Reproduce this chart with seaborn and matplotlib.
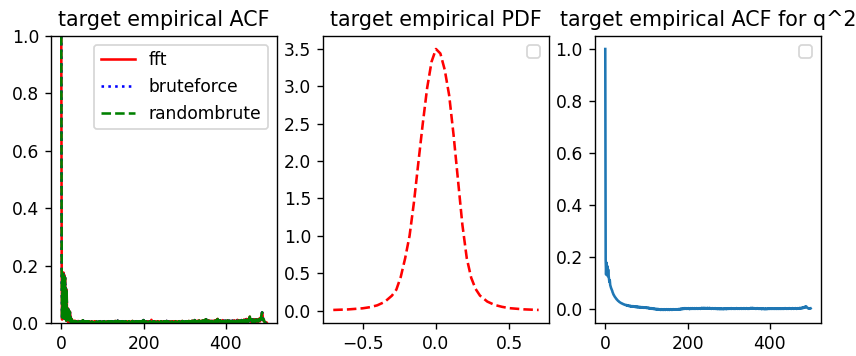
import numpy as np
import matplotlib
matplotlib.use("Agg")
import matplotlib.pyplot as plt
import seaborn as sns

# ---------------- data ----------------
lags = list(range(500))

acf_q = [
    1.0, 0.181, 0.012, 0.172, 0.018, 0.176, 0.025, 0.168, 0.015, 0.158, 0.022, 0.121, 0.008, 0.115, 0.012, 0.052, 0.004, 0.048, 0.010, 0.041, 0.003, 0.039, 0.006, 0.022, 0.002,
    0.014, -0.002, 0.009, 0.001, 0.007, -0.003, 0.006, 0.002, 0.008, -0.004, 0.005, 0.001, 0.006, -0.002, 0.004, 0.003, 0.007, -0.003, 0.005, 0.000, 0.006, -0.001, 0.004, 0.002, 0.005,
    -0.002, 0.008, 0.001, 0.009, -0.003, 0.006, 0.002, 0.005, -0.001, 0.004, 0.003, 0.006, -0.004, 0.005, 0.001, 0.004, -0.002, 0.006, 0.002, 0.003, -0.003, 0.005, 0.001, 0.004, -0.002,
    0.005, 0.002, 0.003, -0.004, 0.004, 0.001, 0.006, -0.002, 0.003, 0.002, 0.005, -0.003, 0.004, 0.000, 0.003, -0.001, 0.005, 0.002, 0.004, -0.003, 0.006, 0.001, 0.003, -0.002, 0.004,
    0.002, 0.005, -0.003, 0.004, 0.001, 0.006, -0.002, 0.003, 0.002, 0.004, -0.004, 0.005, 0.001, 0.003, -0.001, 0.006, 0.002, 0.004, -0.003, 0.005, 0.000, 0.004, -0.002, 0.006, 0.001,
    0.003, -0.003, 0.005, 0.002, 0.004, -0.001, 0.007, 0.001, 0.004, -0.002, 0.005, 0.003, 0.008, -0.003, 0.004, 0.001, 0.006, -0.002, 0.003, 0.002, 0.005, -0.004, 0.004, 0.001, 0.006,
    -0.002, 0.004, 0.002, 0.005, -0.003, 0.003, 0.001, 0.006, -0.001, 0.004, 0.002, 0.005, -0.003, 0.004, 0.000, 0.006, -0.002, 0.003, 0.002, 0.005, -0.004, 0.004, 0.001, 0.007, -0.001,
    0.004, 0.002, 0.006, -0.003, 0.005, 0.001, 0.004, -0.002, 0.006, 0.002, 0.003, -0.003, 0.005, 0.001, 0.004, -0.001, 0.006, 0.002, 0.005, -0.003, 0.004, 0.001, 0.007, -0.002, 0.005,
    0.010, 0.003, 0.006, -0.002, 0.004, 0.001, 0.005, -0.003, 0.004, 0.002, 0.006, -0.001, 0.004, 0.002, 0.005, -0.003, 0.006, 0.001, 0.004, 0.011, 0.007, 0.002, 0.005, -0.002, 0.004,
    0.001, 0.006, -0.003, 0.004, 0.002, 0.005, -0.002, 0.003, 0.001, 0.006, -0.004, 0.004, 0.002, 0.005, -0.001, 0.003, 0.002, 0.006, -0.003, 0.004, 0.001, 0.005, -0.002, 0.004, 0.002,
    0.006, -0.003, 0.004, 0.001, 0.005, -0.002, 0.007, 0.002, 0.004, -0.003, 0.005, 0.001, 0.004, -0.001, 0.006, 0.002, 0.003, -0.003, 0.005, 0.001, 0.004, -0.002, 0.006, 0.002, 0.005,
    -0.003, 0.004, 0.001, 0.006, -0.002, 0.003, 0.002, 0.005, -0.004, 0.004, 0.001, 0.006, -0.001, 0.004, 0.002, 0.005, -0.003, 0.004, 0.001, 0.007, -0.002, 0.005, 0.002, 0.004, -0.003,
    0.005, 0.001, 0.004, -0.002, 0.006, 0.002, 0.004, -0.003, 0.005, 0.001, 0.007, -0.001, 0.004, 0.002, 0.006, -0.003, 0.005, 0.002, 0.008, 0.001, 0.006, -0.002, 0.005, 0.003, 0.010,
    0.004, 0.002, 0.007, -0.002, 0.005, 0.001, 0.008, 0.003, 0.006, -0.001, 0.009, 0.002, 0.005, -0.002, 0.007, 0.003, 0.006, 0.001, 0.009, -0.001, 0.006, 0.002, 0.008, 0.004, 0.011,
    0.005, 0.002, 0.013, 0.004, 0.007, -0.001, 0.006, 0.003, 0.009, 0.001, 0.006, 0.002, 0.008, -0.002, 0.006, 0.003, 0.007, 0.001, 0.005, 0.002, 0.008, 0.000, 0.006, 0.003, 0.009,
    0.004, 0.007, 0.002, 0.012, 0.005, 0.014, 0.003, 0.008, 0.001, 0.006, 0.002, 0.009, 0.004, 0.007, -0.001, 0.006, 0.003, 0.010, 0.002, 0.007, 0.001, 0.006, 0.003, 0.008, 0.000,
    0.006, 0.002, 0.007, 0.003, 0.009, 0.001, 0.006, 0.004, 0.008, 0.000, 0.006, 0.002, 0.007, 0.003, 0.005, 0.001, 0.008, 0.002, 0.006, 0.004, 0.009, 0.001, 0.007, 0.003, 0.006,
    0.002, 0.008, 0.004, 0.011, 0.002, 0.007, 0.003, 0.009, 0.001, 0.006, 0.003, 0.008, 0.002, 0.010, 0.004, 0.007, 0.001, 0.009, 0.003, 0.012, 0.005, 0.008, 0.002, 0.011, 0.004,
    0.014, 0.006, 0.009, 0.003, 0.012, 0.005, 0.016, 0.008, 0.022, 0.010, 0.013, 0.004, 0.010, 0.006, 0.012, 0.003, 0.011, 0.005, 0.013, 0.007, 0.010, 0.004, 0.012, 0.006, 0.011,
    0.004, 0.013, 0.007, 0.010, 0.005, 0.014, 0.008, 0.011, 0.006, 0.018, 0.012, 0.024, 0.030, 0.037, 0.028, 0.015, 0.009, 0.012, 0.006, 0.004, 0.002, 0.001, -0.002, 0.000, 0.001,
]

acf_q2 = [
    1.000, 0.190, 0.132, 0.178, 0.140, 0.165, 0.126, 0.152, 0.129, 0.118, 0.104, 0.110, 0.092, 0.086, 0.081, 0.077, 0.072, 0.069, 0.063, 0.060, 0.055, 0.053, 0.050, 0.047, 0.045,
    0.043, 0.040, 0.039, 0.036, 0.035, 0.033, 0.031, 0.030, 0.029, 0.027, 0.026, 0.025, 0.024, 0.023, 0.022, 0.021, 0.021, 0.020, 0.019, 0.018, 0.018, 0.017, 0.016, 0.016, 0.015,
    0.015, 0.014, 0.015, 0.013, 0.014, 0.012, 0.013, 0.011, 0.012, 0.011, 0.010, 0.012, 0.010, 0.011, 0.009, 0.010, 0.009, 0.011, 0.008, 0.009, 0.010, 0.008, 0.009, 0.007, 0.009,
    0.008, 0.007, 0.009, 0.006, 0.008, 0.007, 0.008, 0.006, 0.007, 0.008, 0.005, 0.007, 0.006, 0.007, 0.005, 0.006, 0.007, 0.005, 0.006, 0.004, 0.006, 0.005, 0.004, 0.006, 0.004,
    0.005, 0.003, 0.004, 0.005, 0.003, 0.004, 0.002, 0.004, 0.003, 0.002, 0.003, 0.001, 0.003, 0.002, 0.000, 0.002, 0.001, 0.000, 0.001, -0.001, 0.001, 0.000, -0.001, 0.000, -0.002,
    0.000, -0.001, -0.002, 0.000, -0.003, -0.001, -0.002, -0.003, -0.001, -0.004, -0.002, -0.003, -0.001, -0.004, -0.002, -0.003, -0.002, -0.004, -0.001, -0.003, -0.002, -0.004, -0.002, -0.003, -0.001,
    -0.003, -0.002, -0.004, -0.001, -0.003, -0.002, -0.004, -0.002, -0.003, -0.001, -0.003, -0.002, -0.004, -0.001, -0.002, -0.003, -0.001, -0.003, -0.002, -0.003, -0.001, -0.002, -0.003, -0.001, -0.002,
    -0.001, -0.003, -0.001, -0.002, 0.000, -0.002, -0.001, 0.000, -0.002, 0.001, -0.001, 0.000, 0.001, -0.001, 0.002, 0.000, 0.001, 0.003, 0.000, 0.002, 0.001, 0.003, 0.000, 0.002, 0.001,
    0.002, 0.000, 0.003, 0.001, 0.002, -0.001, 0.002, 0.001, 0.003, 0.000, 0.002, 0.001, 0.003, 0.000, 0.001, 0.002, 0.000, 0.003, 0.001, 0.002, 0.000, 0.001, 0.003, 0.001, 0.002,
    0.000, 0.002, 0.001, 0.003, 0.001, 0.002, 0.000, 0.003, 0.002, 0.004, 0.001, 0.003, 0.002, 0.004, 0.001, 0.003, 0.002, 0.004, 0.002, 0.003, 0.001, 0.003, 0.002, 0.004, 0.001,
    0.003, 0.001, 0.002, 0.004, 0.001, 0.003, 0.002, 0.003, 0.000, 0.002, 0.001, 0.003, 0.001, 0.002, 0.000, 0.002, 0.001, 0.003, 0.000, 0.002, 0.001, 0.002, -0.001, 0.001, 0.002,
    0.000, 0.001, -0.001, 0.001, 0.000, 0.002, -0.001, 0.001, 0.000, 0.001, -0.001, 0.000, 0.001, -0.001, 0.001, 0.000, 0.002, 0.000, 0.001, -0.001, 0.001, 0.000, 0.002, 0.000, 0.001,
    0.000, 0.002, 0.001, 0.000, 0.002, 0.001, 0.003, 0.000, 0.002, 0.001, 0.002, 0.000, 0.001, 0.002, 0.000, 0.001, 0.002, 0.000, 0.001, 0.003, 0.001, 0.002, 0.000, 0.002, 0.001,
    0.002, 0.000, 0.001, 0.002, 0.001, 0.003, 0.000, 0.002, 0.001, 0.002, 0.000, 0.001, 0.003, 0.001, 0.002, 0.000, 0.002, 0.001, 0.003, 0.001, 0.002, 0.000, 0.001, 0.002, 0.000,
    0.002, 0.001, 0.003, 0.002, 0.004, 0.001, 0.003, 0.002, 0.004, 0.002, 0.003, 0.001, 0.002, 0.003, 0.001, 0.002, 0.000, 0.002, 0.001, 0.003, 0.001, 0.002, 0.000, 0.001, 0.002,
    0.000, 0.001, 0.002, 0.000, 0.001, -0.001, 0.001, 0.000, 0.002, 0.000, 0.001, -0.001, 0.000, 0.001, -0.001, 0.001, 0.000, 0.001, -0.001, 0.000, 0.001, 0.000, 0.002, 0.000, 0.001,
    0.000, 0.001, 0.002, 0.000, 0.001, 0.000, 0.002, 0.001, 0.000, 0.001, 0.002, 0.000, 0.001, 0.000, 0.002, 0.001, 0.000, 0.001, 0.000, 0.002, 0.001, 0.000, 0.001, 0.002, 0.000,
    0.001, 0.000, 0.002, 0.001, 0.000, 0.001, 0.002, 0.000, 0.001, 0.000, 0.002, 0.001, 0.003, 0.001, 0.002, 0.000, 0.001, 0.002, 0.001, 0.000, 0.002, 0.001, 0.003, 0.001, 0.002,
    0.001, 0.002, 0.000, 0.002, 0.001, 0.003, 0.001, 0.002, 0.000, 0.001, 0.002, 0.001, 0.003, 0.001, 0.002, 0.000, 0.002, 0.001, 0.003, 0.002, 0.001, 0.003, 0.002, 0.004, 0.002,
    0.003, 0.002, 0.004, 0.003, 0.005, 0.003, 0.006, 0.004, 0.007, 0.005, 0.008, 0.006, 0.009, 0.010, 0.008, 0.006, 0.004, 0.003, 0.002, 0.003, 0.002, 0.001, 0.002, 0.001, 0.002,
]

pdf_x = [-0.70, -0.60, -0.50, -0.45, -0.40, -0.35, -0.30, -0.27, -0.24, -0.21, -0.18, -0.15,
         -0.12, -0.09, -0.06, -0.03, 0.0, 0.03, 0.06, 0.09, 0.12, 0.15, 0.18, 0.21, 0.24,
         0.27, 0.30, 0.35, 0.40, 0.45, 0.50, 0.60, 0.70]
pdf_y = [0.008, 0.015, 0.030, 0.045, 0.070, 0.115, 0.200, 0.280, 0.450, 0.700, 1.000, 1.450,
         1.980, 2.500, 2.980, 3.330, 3.500, 3.440, 3.220, 2.880, 2.350, 1.750, 1.150, 0.700, 0.440,
         0.290, 0.200, 0.120, 0.075, 0.050, 0.032, 0.016, 0.008]

titles = ["target empirical ACF", "target empirical PDF", "target empirical ACF for q^2"]
acf_labels = ["fft", "bruteforce", "randombrute"]

# ---------------- figure ----------------
DPI = 123.5
fig, axes = plt.subplots(1, 3, figsize=(856 / DPI, 356 / DPI), dpi=DPI)
fig.subplots_adjust(left=0.0596, right=0.959, top=0.899, bottom=0.0927, wspace=0.204)

ax1, ax2, ax3 = axes

styles = [("red", "-"), ("blue", ":"), ("green", "--")]
for lab, (col, ls) in zip(acf_labels, styles):
    sns.lineplot(x=lags, y=acf_q, ax=ax1, color=col, linestyle=ls, label=lab,
                 errorbar=None, linewidth=1.5)
ax1.set_ylim(0, 1)
ax1.set_title(titles[0])
ax1.legend(loc="upper right")

sns.lineplot(x=pdf_x, y=pdf_y, ax=ax2, color="red", linestyle="--", errorbar=None,
             linewidth=1.5)
ax2.set_title(titles[1])
ax2.legend(loc="upper right")

sns.lineplot(x=lags, y=acf_q2, ax=ax3, color="#1f77b4", errorbar=None, linewidth=1.5)
ax3.set_title(titles[2])
ax3.legend(loc="upper right")

for ax in axes:
    ax.set_xlabel("")
    ax.set_ylabel("")

fig.savefig("out.png", dpi=DPI)
